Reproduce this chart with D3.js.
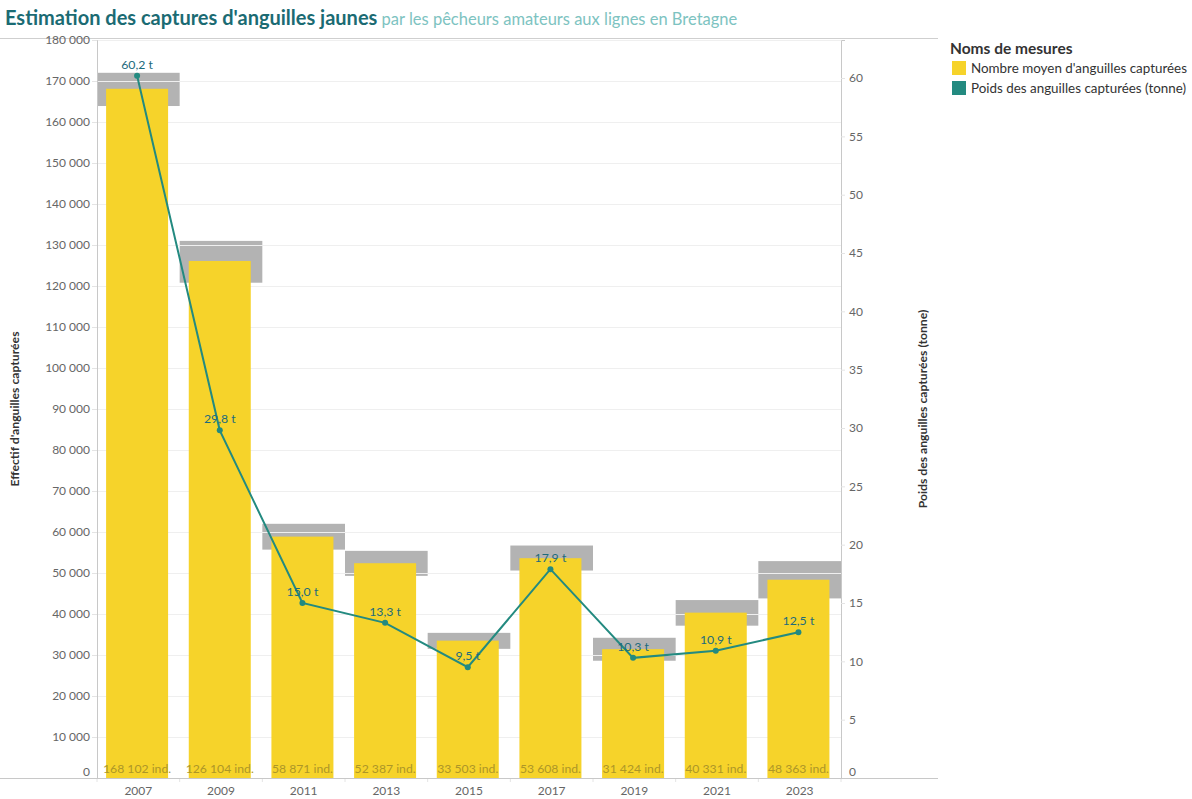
<!DOCTYPE html>
<html><head><meta charset="utf-8">
<script src="https://cdn.jsdelivr.net/npm/d3@7"></script>
<style>
body{margin:0;background:#fff;}
svg{display:block;font-family:"Lato","Open Sans",sans-serif;}
</style></head>
<body>
<svg id="chart" width="1192" height="799"></svg>
<script>
const years = ["2007","2009","2011","2013","2015","2017","2019","2021","2023"];
const counts = [168102,126104,58871,52387,33503,53608,31424,40331,48363];
const weights = [60.2,29.8,15.0,13.3,9.5,17.9,10.3,10.9,12.5];
const rangeLow = [163900,120800,55700,49300,31500,50600,28600,37150,43800];
const rangeHigh = [172000,131000,62000,55400,35400,56700,34200,43400,52900];
const leftTicks = d3.range(0,180001,10000);
const rightTicks = d3.range(0,61,5);
const legendItems = ["Nombre moyen d'anguilles capturées","Poids des anguilles capturées (tonne)"];

const fr = d3.formatLocale({decimal:",",thousands:"\u00a0",grouping:[3],currency:["","€"]});
const fmtInt = fr.format(",d");
const fmt1 = fr.format(".1f");

const svg = d3.select("#chart");
const L=97, R=841, T=40, B=778;
const x = d3.scaleBand().domain(years).range([L,R]).padding(0);
const yL = d3.scaleLinear().domain([0,180000]).range([B,T]);
const yR = d3.scaleLinear().domain([0,63.26]).range([B,T]);
const bw = x.bandwidth();

// title
const title = svg.append("text").attr("x",5).attr("y",25);
title.append("tspan").text("Estimation des captures d'anguilles jaunes")
  .attr("font-size",20).attr("font-weight",700).attr("fill","#1b6b73");
title.append("tspan").text(" par les pêcheurs amateurs aux lignes en Bretagne")
  .attr("font-size",16.5).attr("fill","#7dc3c1");

// frame lines
svg.append("line").attr("x1",0).attr("x2",938).attr("y1",38.5).attr("y2",38.5).attr("stroke","#cfcfcf");

// gray range bands
svg.append("g").selectAll("rect").data(years).join("rect")
  .attr("x",d=>x(d)).attr("width",bw)
  .attr("y",(d,i)=>yL(rangeHigh[i]))
  .attr("height",(d,i)=>yL(rangeLow[i])-yL(rangeHigh[i]))
  .attr("fill","#b3b3b3");

// gridlines
svg.append("g").selectAll("line").data(leftTicks.filter(v=>v>0)).join("line")
  .attr("x1",L).attr("x2",R).attr("y1",d=>Math.round(yL(d))+0.5).attr("y2",d=>Math.round(yL(d))+0.5)
  .attr("stroke","#efefef").attr("stroke-width",1);

// bars
svg.append("g").selectAll("rect").data(years).join("rect")
  .attr("x",d=>x(d)+bw*0.11).attr("width",bw*0.75)
  .attr("y",(d,i)=>yL(counts[i])).attr("height",(d,i)=>B-yL(counts[i]))
  .attr("fill","#f6d32a");

// bar labels
svg.append("g").selectAll("text").data(years).join("text")
  .attr("x",d=>x(d)+bw*0.11+bw*0.375).attr("y",B-5)
  .attr("text-anchor","middle").attr("font-size",12.2).attr("fill","#ad9628")
  .text((d,i)=>fmtInt(counts[i])+" ind.");

// axes
const axL = svg.append("g").attr("transform",`translate(${L},0)`)
  .call(d3.axisLeft(yL).tickValues(leftTicks).tickFormat(fmtInt).tickSize(5).tickPadding(2));
const axR = svg.append("g").attr("transform",`translate(${R},0)`)
  .call(d3.axisRight(yR).tickValues(rightTicks).tickFormat(d3.format("d")).tickSize(4).tickPadding(4));
const axX = svg.append("g").attr("transform",`translate(0,${B})`)
  .call(d3.axisBottom(x).tickSize(0).tickPadding(8));
[axL,axR,axX].forEach(a=>{
  a.select(".domain").attr("stroke","#c8c8c8");
  a.selectAll(".tick line").attr("stroke","#e4e4e4");
  a.selectAll(".tick text").attr("fill","#666").attr("font-size",12).attr("font-family","Lato, sans-serif");
});
axL.selectAll(".tick").filter(d=>d===0).select("text").attr("dy","-0.25em");
axR.selectAll(".tick").filter(d=>d===0).select("text").attr("dy","-0.25em");
axX.select(".domain").remove();
// x tick marks between categories
svg.append("g").selectAll("line").data(years.concat(["end"])).join("line")
  .attr("x1",(d,i)=>L+i*bw).attr("x2",(d,i)=>L+i*bw).attr("y1",B).attr("y2",B+4)
  .attr("stroke","#e4e4e4");
svg.append("line").attr("x1",0).attr("x2",938).attr("y1",B+0.5).attr("y2",B+0.5).attr("stroke","#c8c8c8");

// axis titles
svg.append("text").attr("transform",`translate(19,${(T+B)/2}) rotate(-90)`)
  .attr("text-anchor","middle").attr("font-size",12.2).attr("font-weight",700).attr("fill","#333")
  .text("Effectif d'anguilles capturées");
svg.append("text").attr("transform",`translate(927,${(T+B)/2}) rotate(-90)`)
  .attr("text-anchor","middle").attr("font-size",12.2).attr("font-weight",700).attr("fill","#333")
  .text("Poids des anguilles capturées (tonne)");

// line
const cx = d=>x(d)+bw*0.11+bw*0.375;
const line = d3.line().x(d=>cx(d)).y((d,i)=>yR(weights[i]));
svg.append("path").datum(years).attr("d",line).attr("fill","none")
  .attr("stroke","#238a80").attr("stroke-width",2);
svg.append("g").selectAll("circle").data(years).join("circle")
  .attr("cx",cx).attr("cy",(d,i)=>yR(weights[i])).attr("r",3).attr("fill","#238a80");
svg.append("g").selectAll("text").data(years).join("text")
  .attr("x",cx).attr("y",(d,i)=>yR(weights[i])-7)
  .attr("text-anchor","middle").attr("font-size",12.3).attr("fill","#1d6b7c")
  .text((d,i)=>fmt1(weights[i])+" t");

// legend
const lg = svg.append("g").attr("transform","translate(950,0)");
lg.append("text").attr("x",0).attr("y",54).attr("font-size",15.5).attr("font-weight",700).attr("fill","#333").text("Noms de mesures");
const legColors = ["#f6d32a","#238a80"];
lg.selectAll("rect").data(legendItems).join("rect")
  .attr("x",2).attr("y",(d,i)=>61+i*20).attr("width",14).attr("height",14)
  .attr("fill",(d,i)=>legColors[i]);
lg.selectAll("text.li").data(legendItems).join("text").attr("class","li")
  .attr("x",21).attr("y",(d,i)=>73+i*20).attr("font-size",13.4).attr("fill","#333").text(d=>d);
</script>
</body></html>
